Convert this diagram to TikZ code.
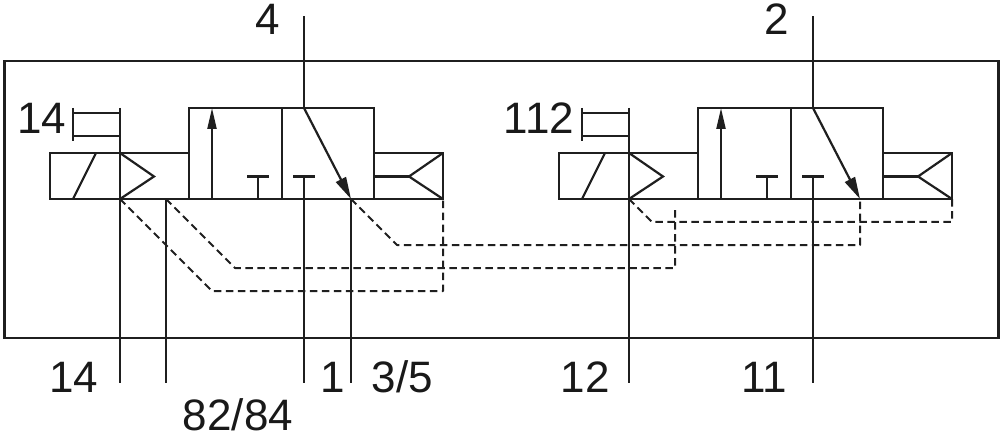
\documentclass[tikz,border=0pt]{standalone}
\usepackage{fontspec}
\setmainfont{Liberation Sans}
\usetikzlibrary{arrows.meta}
\tikzset{
  ln/.style={line width=2.2pt,line join=miter,black!88},
  dsh/.style={line width=2pt,dash pattern=on 7.5pt off 4.5pt,line join=round,black!88},
  tipup/.style={ln,-{Triangle[length=21pt,width=9pt]}},
  tipdiag/.style={ln,-{Triangle[length=22pt,width=11pt]}},
  lab/.style={font=\fontsize{44}{44}\selectfont,inner sep=0pt,text=black!90}
}
\newcommand{\valve}[1]{%
 \begin{scope}[shift={(#1,0)}]
  \draw[ln] (50,153) rectangle (189,199);
  \draw[ln] (189,108) rectangle (374,199);
  \draw[ln] (282,108) -- (282,199);
  \draw[ln] (374,153) rectangle (443,199);
  \draw[ln] (73,199) -- (96,153);
  \draw[ln] (120,153) -- (154,176.5) -- (120,199);
  \draw[ln] (443,153) -- (409,176.5) -- (443,199);
  \draw[ln] (374,176.5) -- (409,176.5);
  \draw[ln] (73,113) -- (120,113);
  \draw[ln] (73,136) -- (120,136);
  \draw[ln] (73,108) -- (73,141);
  \draw[tipup] (212,199) -- (212,108);
  \draw[ln] (258,199) -- (258,176.5);
  \draw[ln] (247,176.5) -- (269,176.5);
  \draw[ln] (293,176.5) -- (315,176.5);
  \draw[tipdiag] (304,108) -- (351,199);
  \draw[ln] (304,108) -- (304,16);
  \draw[ln] (304,176.5) -- (304,383);
  \draw[ln] (120,108) -- (120,383);
 \end{scope}}
\begin{document}
\begin{tikzpicture}[x=1pt,y=-1pt]
\useasboundingbox (0,0) rectangle (1000,438);
\draw[ln] (4.5,61) rectangle (998.5,338);
\valve{0}
\valve{509}
\draw[ln] (166,199) -- (166,383);
\draw[ln] (351,199) -- (351,383);
\draw[dsh] (120,199) -- (212,291) -- (443,291) -- (443,199);
\draw[dsh] (166,199) -- (235,268) -- (675,268) -- (675,206);
\draw[dsh] (351,199) -- (397,245) -- (860,245) -- (860,199);
\draw[dsh] (629,199) -- (652,222) -- (952,222) -- (952,199);
\node[lab] (t4) at (268,19.5) {4};
\node[lab] (t2) at (777,19.5) {2};
\node[lab] (t14a) at (41.5,118) {14};
\node[lab] (t112) at (539,118) {112};
\node[lab] (t14b) at (74,377) {14};
\node[lab] (t82) at (238,415) {82/84};
\node[lab] (t1) at (333,377) {1};
\node[lab] (t35) at (402.5,377) {3/5};
\node[lab] (t12) at (585,377) {12};
\node[lab] (t11) at (764,377) {11};
\end{tikzpicture}
\end{document}
